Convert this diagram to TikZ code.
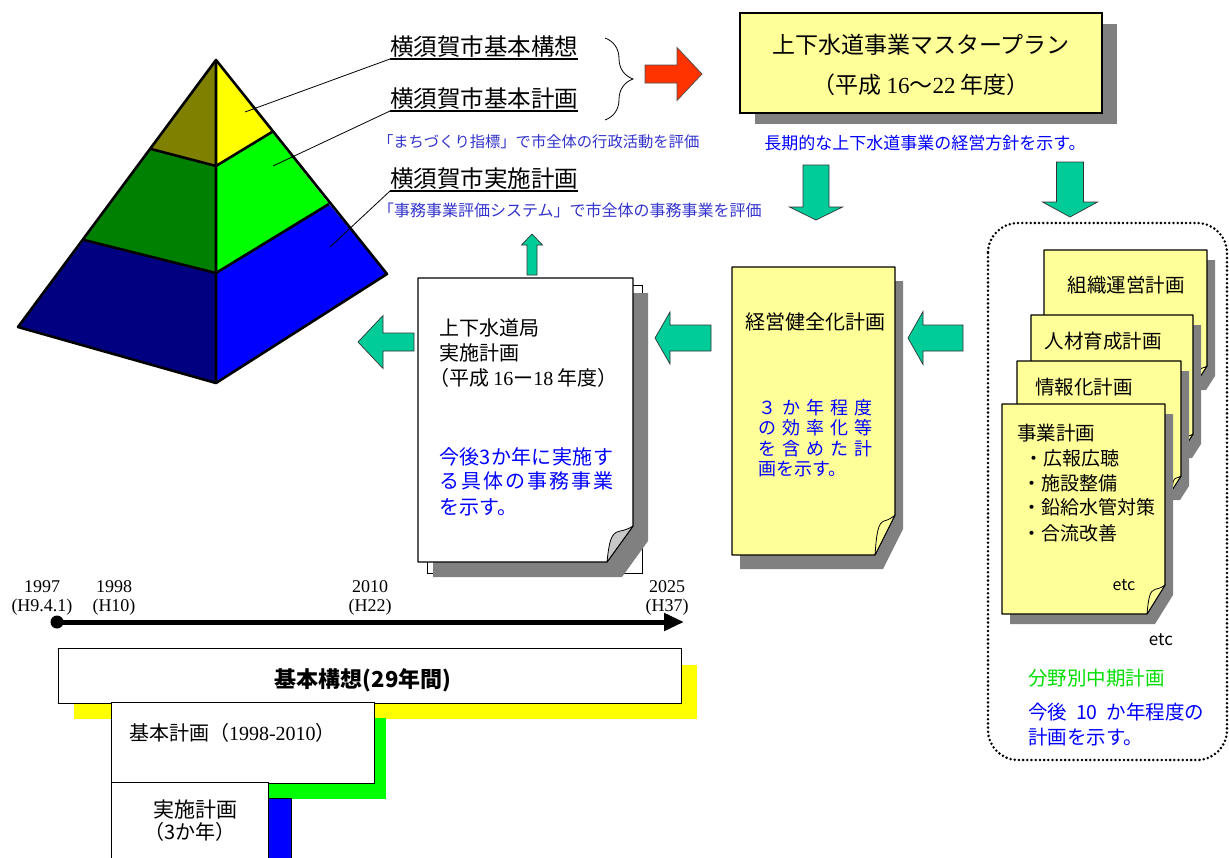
\documentclass[tikz,border=0pt]{standalone}
\usepackage{fontspec}
\setmainfont{Noto Sans CJK JP}
\newfontfamily\numfont{Liberation Serif}
\usetikzlibrary{shadows,decorations.pathreplacing,arrows.meta}

\definecolor{paleyellow}{HTML}{FFFF99}
\definecolor{shadowgray}{HTML}{808080}
\definecolor{curlgray}{HTML}{C8C8C8}
\definecolor{arrowgreen}{HTML}{00CC99}
\definecolor{arrowred}{HTML}{FF3300}
\definecolor{textblue}{HTML}{0000FF}
\definecolor{noteblue}{HTML}{3333CC}
\definecolor{plangreen}{HTML}{00DD00}
\definecolor{pyolive}{HTML}{808000}
\definecolor{pyyellow}{HTML}{FFFF00}
\definecolor{pygreen}{HTML}{008000}
\definecolor{pylime}{HTML}{00FF00}
\definecolor{pynavy}{HTML}{000080}
\definecolor{pyblue}{HTML}{0000FF}

\newcommand{\fsz}[1]{\fontsize{#1}{#1}\selectfont}

% block arrow: style, tip, direction, length, head length, head half width, shaft half width
\newcommand{\blockarrow}[7]{%
  \begin{scope}[shift={#2},rotate=#3]
    \filldraw[#1] (0,0) -- (-#5,#6) -- (-#5,#7) -- (-#4,#7) -- (-#4,-#7)
      -- (-#5,-#7) -- (-#5,-#6) -- cycle;
  \end{scope}}

% page with curled bottom-right corner and a drop shadow (\docdx, \docdy)
\newcommand{\docpage}[8]{%
  \fill[shadowgray] ({#1+\docdx},{#2+\docdy}) -- ({#3+\docdx},{#2+\docdy})
    -- ({#3+\docdx},{#4+\docdy-#8}) -- ({#3+\docdx-#7},{#4+\docdy})
    -- ({#1+\docdx},{#4+\docdy}) -- cycle;
  \filldraw[fill=#5,draw=black,line width=1.2pt,line join=round]
    (#1,#2) -- (#3,#2) -- (#3,{#4-#8}) -- ({#3-#7},#4) -- (#1,#4) -- cycle;
  \filldraw[fill=#6,draw=black,line width=0.8pt,line join=round]
    ({#3-#7},#4) .. controls ({#3-0.92*#7},{#4-0.55*#8}) and ({#3-0.85*#7},{#4-0.8*#8})
    .. ({#3-0.55*#7},{#4-0.85*#8}) .. controls ({#3-0.3*#7},{#4-0.88*#8}) and ({#3-0.1*#7},{#4-0.95*#8})
    .. (#3,{#4-#8}) -- cycle;
}

\begin{document}
\begin{tikzpicture}[x=1pt,y=-1pt,
  every node/.style={inner sep=0pt,outer sep=0pt},
  greenarrow/.style={fill=arrowgreen,draw=black!80,line width=0.7pt,line join=miter},
  redarrow/.style={fill=arrowred,draw=black!70,line width=0.7pt},
  uline/.style={anchor=south west,inner ysep=1.5pt},
  leader/.style={line width=0.8pt},
  bar/.style={draw=black,line width=0.8pt,fill=white,anchor=north west},
  blue note/.style={text=noteblue,anchor=west},
  blue body/.style={text=textblue,anchor=west}]
\useasboundingbox (0,0) rectangle (1229,857);

% ---------- pyramid ----------
\coordinate (apex) at (216,60);
\coordinate (bl) at (18,327);
\coordinate (bc) at (216,383);
\coordinate (br) at (387,274);
\coordinate (l1) at (151,149);
\coordinate (c1) at (216,166);
\coordinate (r1) at (272,132);
\coordinate (l2) at (84,240);
\coordinate (c2) at (216,273);
\coordinate (r2) at (329,204);
\fill[pyolive] (apex) -- (l1) -- (c1) -- cycle;
\fill[pyyellow] (apex) -- (c1) -- (r1) -- cycle;
\fill[pygreen] (l1) -- (l2) -- (c2) -- (c1) -- cycle;
\fill[pylime] (c1) -- (c2) -- (r2) -- (r1) -- cycle;
\fill[pynavy] (l2) -- (bl) -- (bc) -- (c2) -- cycle;
\fill[pyblue] (c2) -- (bc) -- (br) -- (r2) -- cycle;
\draw[line width=2.6pt,line join=round] (apex) -- (bl) -- (bc) -- (br) -- cycle;
\draw[line width=2.6pt] (apex) -- (bc) (l1) -- (c1) -- (r1) (l2) -- (c2) -- (r2);

% ---------- plan labels ----------
\node[uline] (kousou) at (390,59) {\fsz{23.5}横須賀市基本構想};
\node[uline] (keikaku) at (390,111) {\fsz{23.5}横須賀市基本計画};
\node[uline] (jisshi) at (390,191) {\fsz{23.5}横須賀市実施計画};
\foreach \n in {kousou,keikaku,jisshi}
  \draw[line width=1.2pt] (\n.south west) -- (\n.south east);
\node[blue note] (machi) at (378,142) {\fsz{15.3}「まちづくり指標」で市全体の行政活動を評価};
\node[blue note] (jimu) at (378,210) {\fsz{16}「事務事業評価システム」で市全体の事務事業を評価};

\coordinate (p1) at (245,112);
\coordinate (p2) at (273,166);
\coordinate (p3) at (330,247);
\draw[leader] (p1) -- (kousou.south west);
\draw[leader] (p2) -- (keikaku.south west);
\draw[leader] (p3) -- (jisshi.south west);

% brace and red arrow
\coordinate (bracetop) at (605,38);
\coordinate (bracebot) at (605,120);
\draw[line width=0.8pt,decorate,decoration={brace,amplitude=28pt}] (bracetop) -- (bracebot);
\blockarrow{redarrow}{(702,74)}{0}{57}{25}{26.5}{9}

% ---------- master plan ----------
\node[draw=black,line width=1.5pt,fill=paleyellow,minimum width=362pt,minimum height=100pt,
  drop shadow={shadow xshift=15pt,shadow yshift=-11pt,fill=shadowgray,opacity=1}] (master) at (921,63) {};
\node (master1) at (921,45) {\fsz{23}上下水道事業マスタープラン};
\node (master2) at (921,85) {\fsz{23}（平成 {\numfont 16}～{\numfont 22} 年度）};
\node[text=textblue] (masternote) at (925,143) {\fsz{17}長期的な上下水道事業の経営方針を示す。};

\blockarrow{greenarrow}{(816,220)}{-90}{55}{13}{26.5}{13}
\blockarrow{greenarrow}{(1070,217)}{-90}{55}{15}{27.5}{13.5}

% ---------- sector plans ----------
\draw[line width=2.8pt,line cap=round,dash pattern=on 0pt off 4.2pt,rounded corners=30pt]
  (988,223) rectangle (1227,760);
\def\docdx{8}\def\docdy{10}
\docpage{1044}{250}{1207}{380}{paleyellow}{paleyellow}{9}{14}
\docpage{1031}{315}{1193}{448}{paleyellow}{paleyellow}{9}{14}
\docpage{1017}{361}{1181}{490}{paleyellow}{paleyellow}{9}{14}
\docpage{1002}{404}{1165}{614}{paleyellow}{paleyellow}{18}{29}
\node (soshiki) at (1126,285) {\fsz{19.5}組織運営計画};
\node (jinzai) at (1103,341) {\fsz{19.5}人材育成計画};
\node (johoka) at (1084,387) {\fsz{19.5}情報化計画};
\node[anchor=west] (jigyo) at (1017,433) {\fsz{19.5}事業計画};
\node[anchor=west] (item1) at (1024,458) {\fsz{19}・広報広聴};
\node[anchor=west] (item2) at (1022,483) {\fsz{19}・施設整備};
\node[anchor=west] (item3) at (1022,507) {\fsz{19}・鉛給水管対策};
\node[anchor=west] (item4) at (1022,533) {\fsz{19}・合流改善};
\node (etcin) at (1124,585) {\fsz{16}etc};
\node (etcout) at (1161,640) {\fsz{17}etc};
\node[anchor=west,text=plangreen] (bunya) at (1028,678) {\fsz{19.5}分野別中期計画};
\node[blue body] (bunya1) at (1028,712) {\fsz{19.5}今後\hspace{9pt}10\hspace{9pt}か年程度の};
\node[blue body] (bunya2) at (1028,737) {\fsz{19.5}計画を示す。};

% ---------- management plan ----------
\def\docdx{8}\def\docdy{14}
\docpage{732}{267}{895}{555}{paleyellow}{paleyellow}{20}{40}
\node (kenzen) at (815,322) {\fsz{20}経営健全化計画};
\node[blue body] (kz1) at (758,408) {\fsz{18}\makebox[115pt][s]{３\hfil か\hfil 年\hfil 程\hfil 度}};
\node[blue body] (kz2) at (758,428) {\fsz{18}\makebox[115pt][s]{の\hfil 効\hfil 率\hfil 化\hfil 等}};
\node[blue body] (kz3) at (758,449) {\fsz{18}\makebox[115pt][s]{を\hfil 含\hfil め\hfil た\hfil 計}};
\node[blue body] (kz4) at (758,469) {\fsz{18}画を示す。};

\blockarrow{greenarrow}{(908,338)}{180}{55}{15}{26.5}{13}
\blockarrow{greenarrow}{(655,338)}{180}{56}{15}{26}{13}

% ---------- bureau implementation plan ----------
\filldraw[fill=white,draw=black,line width=1pt] (427,285) rectangle (642,573);
\def\docdx{15}\def\docdy{15}
\docpage{418}{278}{633}{562}{white}{curlgray}{26}{36}
\node[anchor=west] (kyoku1) at (439,328) {\fsz{20}上下水道局};
\node[anchor=west] (kyoku2) at (439,353) {\fsz{20}実施計画};
\node[anchor=west] (kyoku3) at (429,378) {\fsz{20}（平成 {\numfont 16}ー{\numfont 18} 年度）};
\node[blue body] (ky1) at (439,457) {\fsz{20}\makebox[174pt][s]{今\hfil 後\hfil 3\hfil か\hfil 年\hfil に\hfil 実\hfil 施\hfil す}};
\node[blue body] (ky2) at (439,481) {\fsz{20}\makebox[174pt][s]{る\hfil 具\hfil 体\hfil の\hfil 事\hfil 務\hfil 事\hfil 業}};
\node[blue body] (ky3) at (439,507) {\fsz{20}を示す。};

\blockarrow{greenarrow}{(532,234)}{90}{41}{11}{10.5}{5}
\blockarrow{greenarrow}{(358,342)}{180}{56}{25}{26.5}{9}

% ---------- timeline ----------
\coordinate (tstart) at (57,622);
\coordinate (tend) at (684,622);
\draw[line width=5pt,-{Triangle[length=20pt,width=17pt]}] (tstart) -- (tend);
\fill (tstart) circle[radius=6.5pt];
\node (y1997) at (42,587) {\numfont\fsz{18}1997};
\node (h1997) at (42,607) {\numfont\fsz{18}(H9.4.1)};
\node (y1998) at (114,587) {\numfont\fsz{18}1998};
\node (h1998) at (114,607) {\numfont\fsz{18}(H10)};
\node (y2010) at (370,587) {\numfont\fsz{18}2010};
\node (h2010) at (370,607) {\numfont\fsz{18}(H22)};
\node (y2025) at (667,587) {\numfont\fsz{18}2025};
\node (h2025) at (667,607) {\numfont\fsz{18}(H37)};

% ---------- plan periods ----------
\fill[pyyellow] (74,665) rectangle (697,719);
\node[bar,minimum width=623pt,minimum height=55pt] (bkousou) at (58,648) {};
\node (bkousoutxt) at (363,680) {\fsz{22}\bfseries 基本構想(29年間)};
\fill[pylime] (127,718) rectangle (386,799);
\node[bar,minimum width=263pt,minimum height=81pt] (bkeikaku) at (111,702) {};
\node[anchor=west] (bkeikakutxt) at (129,733) {\fsz{20}基本計画（{\numfont 1998-2010}）};
\filldraw[fill=pyblue,draw=black,line width=0.8pt] (127,798) rectangle (291,875);
\node[bar,minimum width=157pt,minimum height=90pt] (bjisshi) at (111,782) {};
\node (bjisshi1) at (195,810) {\fsz{21}実施計画};
\node (bjisshi2) at (190,832) {\fsz{20}（3か年）};
\end{tikzpicture}
\end{document}
